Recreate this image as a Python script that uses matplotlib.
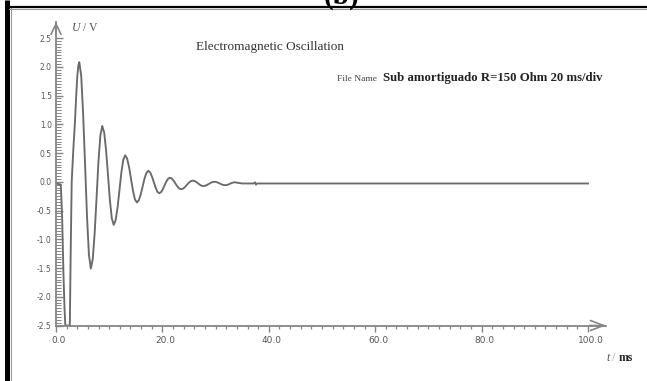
import matplotlib
matplotlib.use('Agg')
import matplotlib.pyplot as plt
import numpy as np
from matplotlib.lines import Line2D
from matplotlib.ticker import FixedLocator, FixedFormatter
from matplotlib.transforms import ScaledTranslation

W, H = 647, 381

# scope trace: time in ms, voltage in V
t_ms = [0.0, 0.9, 1.15, 1.4, 1.6, 1.75, 2.6, 2.75, 2.95, 3.25, 3.57, 3.8, 4.0, 4.2,
        4.38, 4.74, 5.10, 5.47, 5.83, 6.19,
        6.55, 6.91, 7.27, 7.63, 7.98, 8.34,
        8.7, 9.06, 9.42, 9.78, 10.13, 10.49,
        10.85, 11.21, 11.57, 11.93, 12.28, 12.64,
        13.0, 13.37, 13.73, 14.1, 14.47, 14.83,
        15.2, 15.56, 15.92, 16.28, 16.63, 16.99,
        17.35, 17.69, 18.03, 18.38, 18.72, 19.06,
        19.4, 19.73, 20.07, 20.4, 20.73, 21.07,
        21.4, 21.75, 22.1, 22.45, 22.8, 23.15,
        23.5, 23.87, 24.23, 24.6, 24.97, 25.33,
        25.7, 26.03, 26.37, 26.7, 27.03, 27.37,
        27.7, 28.04, 28.38, 28.73, 29.07, 29.41,
        29.75, 30.09, 30.43, 30.78, 31.12, 31.46,
        31.8, 32.1, 32.4, 32.7, 33.0, 33.3,
        33.6, 34.3, 35.0, 37.2, 37.4, 37.6, 37.8, 100.0]
u_volts = [-0.03, -0.05, -0.6, -1.6, -2.2, -2.5, -2.5, -1.3, 0.0, 0.55, 1.05, 1.5, 1.83, 2.02,
           2.08, 1.84, 1.18, 0.285, -0.61, -1.27,
           -1.51, -1.344, -0.89, -0.27, 0.35, 0.804,
           0.97, 0.855, 0.54, 0.11, -0.32, -0.635,
           -0.75, -0.669, -0.448, -0.145, 0.158, 0.379,
           0.46, 0.405, 0.255, 0.05, -0.155, -0.305,
           -0.36, -0.323, -0.2225, -0.085, 0.0525, 0.153,
           0.19, 0.164, 0.0925, -0.005, -0.1025, -0.174,
           -0.20, -0.182, -0.1325, -0.065, 0.0025, 0.052,
           0.07, 0.057, 0.02, -0.03, -0.08, -0.117,
           -0.13, -0.12, -0.0925, -0.055, -0.0175, 0.01,
           0.02, 0.014, -0.004, -0.028, -0.051, -0.069,
           -0.075, -0.07, -0.056, -0.038, -0.019, -0.005,
           0.0, -0.004, -0.015, -0.03, -0.045, -0.056,
           -0.06, -0.057, -0.0475, -0.035, -0.0225, -0.013,
           -0.01, -0.02, -0.03, -0.03, -0.01, -0.05, -0.03, -0.03]

x_major = [0, 20, 40, 60, 80, 100]
x_labels = ['0.0', '20.0', '40.0', '60.0', '80.0', '100.0']
y_major = [-2.5, -2.0, -1.5, -1.0, -0.5, 0.0, 0.5, 1.0, 1.5, 2.0, 2.5]
y_labels = ['-2.5', '-2.0', '-1.5', '-1.0', '-0.5', '0.0', '0.5', '1.0', '1.5', '2.0', '2.5']

AXIS = '#858585'
TRACE = '#6a6a6a'
SERIF = 'Liberation Serif'


def fx(px):
    return px / W


def fy(py):
    return 1 - py / H


fig = plt.figure(figsize=(W / 100, H / 100), dpi=100)
fig.patch.set_facecolor('white')

# page frame: heavy bar on the left, rule along the top
fig.add_artist(Line2D([fx(7), fx(7)], [0, 1], transform=fig.transFigure,
                      color='black', lw=3.6, solid_capstyle='butt'))
fig.add_artist(Line2D([fx(10.5), fx(10.5)], [0, fy(8)], transform=fig.transFigure,
                      color='#9a9a9a', lw=0.8))
fig.add_artist(Line2D([fx(5), 1], [fy(7), fy(7)], transform=fig.transFigure,
                      color='black', lw=1.6, solid_capstyle='butt'))
fig.add_artist(Line2D([fx(9), 1], [fy(8.8), fy(8.8)], transform=fig.transFigure,
                      color='#9a9a9a', lw=0.8))
fig.text(fx(342), fy(4.0), '(b)', family=SERIF, fontsize=21, fontweight='bold',
         ha='center', va='baseline', color='black')

ax = fig.add_axes([fx(56), fy(325.5), fx(606) - fx(56), fy(22) - fy(325.5)])
ax.plot(t_ms, u_volts, color=TRACE, lw=1.35, solid_joinstyle='round')
ax.set_xlim(0, (606 - 56) / 5.32)
ax.set_ylim(-2.5, -2.5 + (325.5 - 22) / 57.5)

for s in ('top', 'right'):
    ax.spines[s].set_visible(False)
for s in ('left', 'bottom'):
    ax.spines[s].set_color(AXIS)
    ax.spines[s].set_linewidth(1.3)

ax.xaxis.set_major_locator(FixedLocator(x_major))
ax.xaxis.set_major_formatter(FixedFormatter(x_labels))
ax.xaxis.set_minor_locator(FixedLocator(np.arange(0, 101, 2)))
ax.yaxis.set_major_locator(FixedLocator(y_major))
ax.yaxis.set_major_formatter(FixedFormatter(y_labels))
ax.yaxis.set_minor_locator(FixedLocator(np.arange(-2.5, 2.51, 0.05)))

ax.tick_params(axis='x', which='major', direction='out', length=4.5, width=1.0,
               color=AXIS, labelsize=6.5, labelcolor='#555555', pad=3)
ax.tick_params(axis='x', which='minor', direction='out', length=2.5, width=0.9, color=AXIS)
ax.tick_params(axis='y', which='major', direction='in', length=5, width=1.0,
               color=AXIS, labelsize=5.5, labelcolor='#555555', pad=3)
ax.tick_params(axis='y', which='minor', direction='in', length=3.5, width=0.7, color=AXIS)

shift = ScaledTranslation(3 / 100, 0, fig.dpi_scale_trans)
for lab in ax.get_xticklabels():
    lab.set_transform(lab.get_transform() + shift)

# open arrowheads at the ends of both axes
ax.annotate('', xy=(0, 1), xytext=(0, 0.96), xycoords='axes fraction',
            arrowprops=dict(arrowstyle='->,head_length=0.75,head_width=0.36',
                            color=AXIS, lw=1.2, mutation_scale=10,
                            shrinkA=0, shrinkB=0), annotation_clip=False)
ax.annotate('', xy=(1, 0), xytext=(0.97, 0), xycoords='axes fraction',
            arrowprops=dict(arrowstyle='->,head_length=0.95,head_width=0.36',
                            color=AXIS, lw=1.2, mutation_scale=10,
                            shrinkA=0, shrinkB=0), annotation_clip=False)

# axis names
fig.text(fx(72), fy(31), 'U', family=SERIF, style='italic', fontsize=8.5,
         color='#555555', va='baseline')
fig.text(fx(83), fy(31), '/ V', family=SERIF, fontsize=8.5, color='#555555',
         va='baseline')
fig.text(fx(606), fy(361), 't', family=SERIF, style='italic', fontsize=8.5,
         color='#555555', va='baseline')
fig.text(fx(612), fy(361), '/', family=SERIF, fontsize=8.5, color='#999999',
         va='baseline')
fig.text(fx(619), fy(361), 'ms', family=SERIF, fontsize=8.5, color='#222222',
         fontweight='bold', va='baseline')

fig.text(fx(196), fy(50), 'Electromagnetic Oscillation', family=SERIF,
         fontsize=9.5, color='#333333', va='baseline')
fig.text(fx(337), fy(81), 'File Name', family=SERIF, fontsize=6.8,
         color='#444444', va='baseline')
fig.text(fx(383), fy(81), 'Sub amortiguado R=150 Ohm 20 ms/div', family=SERIF,
         fontsize=9.2, fontweight='bold', color='#222222', va='baseline')

fig.savefig('out.png', dpi=100)
